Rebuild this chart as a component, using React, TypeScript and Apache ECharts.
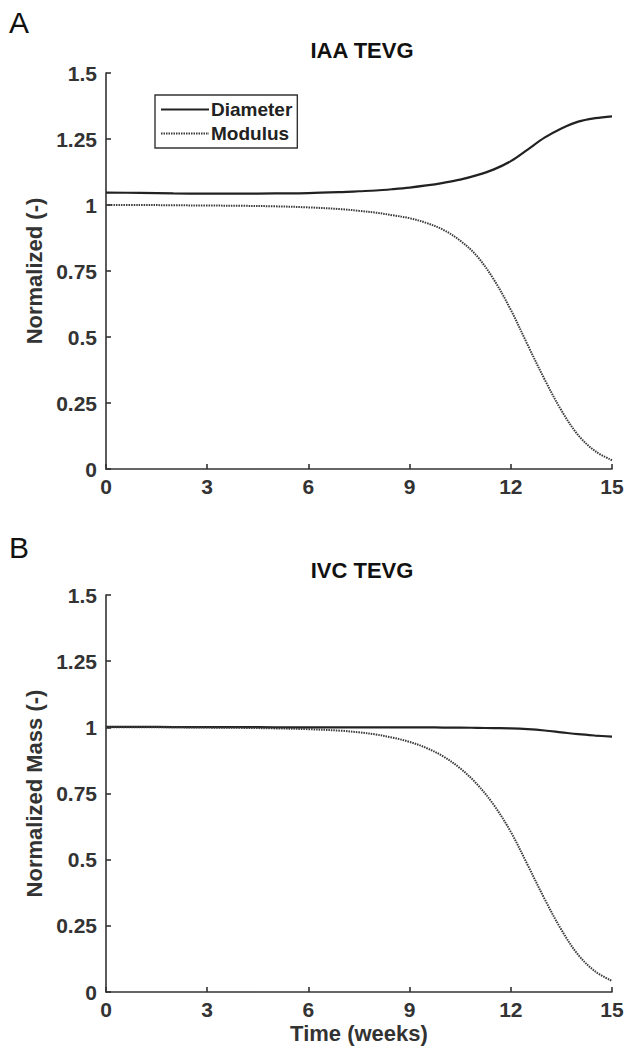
import React, { useEffect, useRef } from "react";
import * as echarts from "echarts";

const times = [0, 1, 2, 3, 4, 5, 6, 7, 7.5, 8, 8.5, 9, 9.5, 10, 10.5, 11, 11.5, 12, 12.5, 13, 13.5, 14, 14.5, 15];

const iaaDiameter = [1.047, 1.046, 1.044, 1.043, 1.043, 1.044, 1.045, 1.049, 1.052, 1.055, 1.06, 1.066, 1.074, 1.084, 1.096, 1.113, 1.135, 1.166, 1.21, 1.255, 1.29, 1.316, 1.329, 1.336];
const iaaModulus = [1.0, 1.0, 0.999, 0.998, 0.997, 0.995, 0.991, 0.984, 0.978, 0.971, 0.961, 0.95, 0.932, 0.906, 0.865, 0.806, 0.717, 0.603, 0.47, 0.34, 0.222, 0.128, 0.068, 0.033];

const ivcDiameter = [1.002, 1.002, 1.001, 1.001, 1.001, 1.0, 1.0, 1.0, 1.0, 1.0, 1.0, 1.0, 1.0, 0.999, 0.999, 0.998, 0.997, 0.996, 0.993, 0.988, 0.981, 0.974, 0.969, 0.965];
const ivcModulus = [1.0, 1.0, 1.0, 0.999, 0.998, 0.996, 0.993, 0.987, 0.981, 0.973, 0.961, 0.945, 0.922, 0.89, 0.845, 0.785, 0.706, 0.605, 0.48, 0.352, 0.235, 0.14, 0.078, 0.042];

const xTicks = [0, 3, 6, 9, 12, 15];

const seriesNames = ["Diameter", "Modulus"];
const panelTitles = ["IAA TEVG", "IVC TEVG"];
const panelLetters = ["A", "B"];
const yNames = ["Normalized (-)", "Normalized Mass (-)"];
const xName = "Time (weeks)";

const FONT = "Liberation Sans, Arial, Helvetica, sans-serif";
const AXIS = "#333";

function pairs(vals: number[]) {
  return times.map((t, i) => [t, vals[i]]);
}

export default function App() {
  const ref = useRef<HTMLDivElement>(null);
  useEffect(() => {
    if (!ref.current) return;
    const chart = echarts.init(ref.current, undefined, { renderer: "svg" });
    const grids = [
      { left: 106, width: 506, top: 73, height: 396 },
      { left: 106, width: 506, top: 595, height: 397 },
    ];
    const mkX = (i: number) => ({
      type: "value",
      gridIndex: i,
      min: 0,
      max: 15,
      interval: 3,
      name: i === 1 ? xName : "",
      nameLocation: "middle",
      nameGap: 30,
      nameTextStyle: { fontFamily: FONT, fontWeight: "bold", fontSize: 22, color: "#333" },
      axisLine: { show: true, lineStyle: { color: AXIS, width: 1.6 } },
      axisTick: { show: true, inside: true, length: 5, lineStyle: { color: AXIS, width: 1.6 } },
      axisLabel: {
        fontFamily: FONT,
        fontWeight: "bold",
        fontSize: 21,
        color: "#333",
        margin: 7,
        customValues: xTicks,
      },
      splitLine: { show: false },
    });
    const mkY = (i: number) => ({
      type: "value",
      gridIndex: i,
      min: 0,
      max: 1.5,
      interval: 0.25,
      name: yNames[i],
      nameLocation: "middle",
      nameGap: 58,
      nameRotate: 90,
      nameTextStyle: { fontFamily: FONT, fontWeight: "bold", fontSize: 22, color: "#333" },
      axisLine: { show: true, lineStyle: { color: AXIS, width: 1.6 } },
      axisTick: { show: true, inside: true, length: 5, lineStyle: { color: AXIS, width: 1.6 } },
      axisLabel: {
        fontFamily: FONT,
        fontWeight: "bold",
        fontSize: 21,
        color: "#333",
        margin: 9,
      },
      splitLine: { show: false },
    });
    const mkSeries = (i: number, name: string, vals: number[], dotted: boolean) => ({
      type: "line",
      name,
      xAxisIndex: i,
      yAxisIndex: i,
      data: pairs(vals),
      smooth: 0.35,
      symbol: "none",
      lineStyle: dotted
        ? { color: "#3a3a3a", width: 2, type: [1.5, 1] }
        : { color: "#222", width: 2.2, type: "solid" },
      itemStyle: { color: dotted ? "#3a3a3a" : "#222" },
    });
    chart.setOption({
      animation: false,
      backgroundColor: "#fff",
      grid: grids,
      xAxis: [mkX(0), mkX(1)],
      yAxis: [mkY(0), mkY(1)],
      legend: {
        data: seriesNames,
        orient: "vertical",
        left: 155,
        top: 95,
        padding: [5, 5, 5, 5],
        itemGap: 5,
        itemWidth: 48,
        itemHeight: 20,
        borderColor: "#333",
        borderWidth: 1.4,
        itemStyle: { opacity: 0 },
        textStyle: { fontFamily: FONT, fontWeight: "bold", fontSize: 19, color: "#222", padding: [0, 0, 0, -3] },
      },
      graphic: [
        { type: "text", left: 9, top: 7, style: { text: panelLetters[0], font: `normal 30px ${FONT}`, fill: "#111" } },
        { type: "text", left: 9, top: 532, style: { text: panelLetters[1], font: `normal 30px ${FONT}`, fill: "#111" } },
        { type: "text", x: 362, y: 50, style: { text: panelTitles[0], font: `bold 22px ${FONT}`, fill: "#111", align: "center", verticalAlign: "middle" } },
        { type: "text", x: 362, y: 570, style: { text: panelTitles[1], font: `bold 22px ${FONT}`, fill: "#111", align: "center", verticalAlign: "middle" } },
      ],
      series: [
        mkSeries(0, seriesNames[0], iaaDiameter, false),
        mkSeries(0, seriesNames[1], iaaModulus, true),
        mkSeries(1, seriesNames[0], ivcDiameter, false),
        mkSeries(1, seriesNames[1], ivcModulus, true),
      ],
    });
    return () => chart.dispose();
  }, []);
  return <div ref={ref} style={{ position: "absolute", left: 0, top: 0, width: 640, height: 1050 }} />;
}
